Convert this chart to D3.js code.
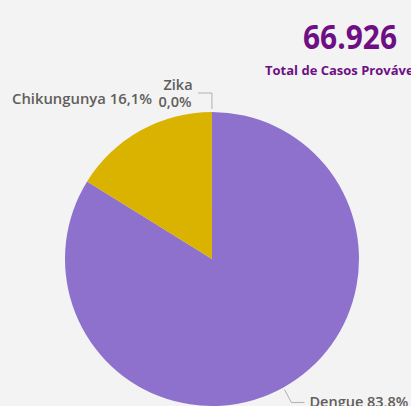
<!DOCTYPE html>
<html>
<head>
<meta charset="utf-8">
<script src="https://cdn.jsdelivr.net/npm/d3@7"></script>
<style>
  body { margin: 0; background: #f3f3f3; overflow: hidden; }
  svg { display: block; }
</style>
</head>
<body>
<div id="chart"></div>
<script>
// dados
const doencas = ["Dengue", "Chikungunya", "Zika"];
const casos = [56115, 10806, 5];
const cores = ["#8e71cd", "#d9b300", "#4aa3a8"];
const total_casos = "66.926";
const subtitulo = "Total de Casos Prováveis";

const width = 411, height = 406;
const cx = 212, cy = 259, raio = 147;

const svg = d3.select("#chart").append("svg")
    .attr("width", width)
    .attr("height", height);

svg.append("rect").attr("width", width).attr("height", height).attr("fill", "#f3f3f3");

const dados = doencas.map(function (d, i) {
    return {name: d, value: casos[i], color: cores[i]};
});
const soma = d3.sum(casos);

const pie = d3.pie().sort(null).value(function (d) { return d.value; });
const arc = d3.arc().innerRadius(0).outerRadius(raio);
const arcos = pie(dados);

const g = svg.append("g").attr("transform", "translate(" + cx + "," + cy + ")");

g.selectAll("path")
    .data(arcos)
    .enter()
    .append("path")
    .attr("d", arc)
    .attr("fill", function (d) { return d.data.color; });

const fmt = function (v) {
    return d3.format(".1f")(v / soma * 100).replace(".", ",") + "%";
};

// rotulos
const cor_rotulo = "#605e5c";
const fonte = "'Open Sans', sans-serif";
const tam = 14.5;

// Dengue: linha guia a partir da borda
const a_dengue = (arcos[0].startAngle + arcos[0].endAngle) / 2;
const p0 = [Math.sin(a_dengue) * raio, -Math.cos(a_dengue) * raio];
g.append("polyline")
    .attr("points", [[p0[0] + 1, p0[1] + 2], [p0[0] + 8, p0[1] + 15], [p0[0] + 21, p0[1] + 15]].join(" "))
    .attr("fill", "none").attr("stroke", "#b0b0b0").attr("stroke-width", 1);
g.append("text")
    .attr("x", p0[0] + 26).attr("y", p0[1] + 20)
    .attr("font-family", fonte).attr("font-size", tam).attr("font-weight", 600)
    .attr("fill", cor_rotulo)
    .text(dados[0].name + " " + fmt(dados[0].value));

// Chikungunya
g.append("text")
    .attr("x", -60).attr("y", -155)
    .attr("text-anchor", "end")
    .attr("font-family", fonte).attr("font-size", tam).attr("font-weight", 600)
    .attr("fill", cor_rotulo)
    .attr("textLength", 140).attr("lengthAdjust", "spacingAndGlyphs")
    .text(dados[1].name + " " + fmt(dados[1].value));

// Zika
const a_zika = arcos[2].startAngle;
const pz = [Math.sin(a_zika) * raio, -Math.cos(a_zika) * raio];
g.append("polyline")
    .attr("points", [[pz[0], pz[1] - 3], [pz[0], pz[1] - 19], [pz[0] - 14, pz[1] - 19]].join(" "))
    .attr("fill", "none").attr("stroke", "#b0b0b0").attr("stroke-width", 1);
g.append("text")
    .attr("x", -34).attr("y", -169)
    .attr("text-anchor", "middle")
    .attr("font-family", fonte).attr("font-size", tam).attr("font-weight", 600)
    .attr("fill", cor_rotulo)
    .text(dados[2].name);
g.append("text")
    .attr("x", -37).attr("y", -152)
    .attr("text-anchor", "middle")
    .attr("font-family", fonte).attr("font-size", tam).attr("font-weight", 600)
    .attr("fill", cor_rotulo)
    .text(fmt(dados[2].value));

// cartao
svg.append("text")
    .attr("x", 303).attr("y", 49)
    .attr("font-family", fonte).attr("font-size", 34).attr("font-weight", 700)
    .attr("fill", "#6e0f84")
    .attr("textLength", 94).attr("lengthAdjust", "spacingAndGlyphs")
    .text(total_casos);
svg.append("text")
    .attr("x", 265).attr("y", 75)
    .attr("font-family", fonte).attr("font-size", 13).attr("font-weight", 700)
    .attr("fill", "#6e0f84")
    .text(subtitulo);
</script>
</body>
</html>
